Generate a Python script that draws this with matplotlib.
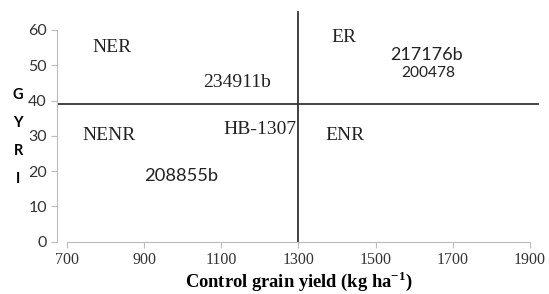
import matplotlib.pyplot as plt

# genotype labels and their positions (control yield, GYRI)
genotypes = ['234911b', '217176b', '200478', 'HB-1307', '208855b']
gen_x = [1140, 1633, 1636, 1200, 995]
gen_y = [45.0, 52.9, 47.8, 31.9, 18.6]

# quadrant labels
quadrants = ['NER', 'ER', 'NENR', 'ENR']
quad_x = [817, 1418, 809, 1421]
quad_y = [54.9, 58.0, 30.2, 30.2]

# mean lines
mean_yield = 1300
mean_gyri = 38.9

xticks = [700, 900, 1100, 1300, 1500, 1700, 1900]
yticks = [0, 10, 20, 30, 40, 50, 60]

serif = ['Liberation Serif', 'DejaVu Serif']
sans = ['Lato', 'DejaVu Sans']

fig = plt.figure(figsize=(5.49, 2.94), dpi=100)
ax = fig.add_axes([0.1045, 0.178, 0.8784, 0.786])

ax.set_xlim(675, 1925)
ax.set_ylim(0, 65.5)

ax.plot([mean_yield, mean_yield], [0, 65.1], color='#333333', lw=1.3)
ax.plot([677, 1920], [mean_gyri, mean_gyri], color='#333333', lw=1.3)

for name, x, y in zip(quadrants, quad_x, quad_y):
    ax.text(x, y, name, family=serif, fontsize=14, ha='center', va='center', color='#222222')

gen_fonts = {'234911b': (serif, 14), '217176b': (sans, 13), '200478': (sans, 11.2),
             'HB-1307': (serif, 14), '208855b': (sans, 13.2)}
for name, x, y in zip(genotypes, gen_x, gen_y):
    fam, fs = gen_fonts[name]
    ax.text(x, y, name, family=fam, fontsize=fs, ha='center', va='center', color='#222222')

for s in ['top', 'right']:
    ax.spines[s].set_visible(False)
ax.spines['left'].set_bounds(0, 60)
ax.spines['bottom'].set_bounds(700, 1900)
ax.spines['left'].set_color('#bbbbbb')
ax.spines['bottom'].set_color('#bbbbbb')
ax.set_xticks(xticks)
ax.set_yticks(yticks)
ax.tick_params(colors='#bbbbbb', labelcolor='#333333', length=4)
for lab in ax.get_xticklabels():
    lab.set_family(serif)
    lab.set_fontsize(11.5)
for lab in ax.get_yticklabels():
    lab.set_family(sans)
    lab.set_fontsize(11.5)

ax.set_xlabel('Control grain yield (kg ha$^{\\mathregular{-1}}$)', family=serif,
              fontweight='bold', fontsize=13.3, labelpad=1)
fig.text(0.033, 0.534, 'G\nY\nR\nI', ha='center', va='center', fontweight='bold',
         fontsize=10.5, linespacing=2.3, family=sans)

fig.savefig('out.png', dpi=100)
